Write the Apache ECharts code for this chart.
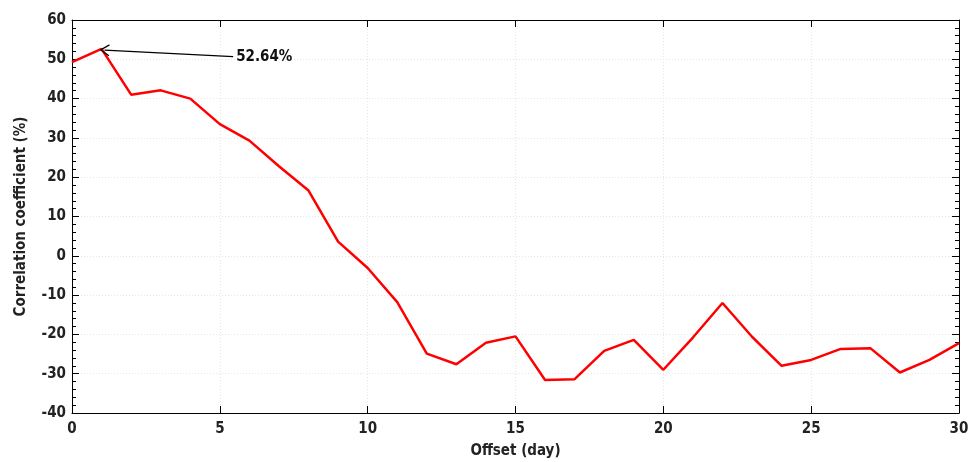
<!DOCTYPE html>
<html><head><meta charset="utf-8">
<script src="https://cdn.jsdelivr.net/npm/echarts@6/dist/echarts.min.js"></script>
<style>html,body{margin:0;padding:0;background:#fff}#c{width:969px;height:462px}</style>
</head><body><div id="c"></div>
<script>
const offsets = [0,1,2,3,4,5,6,7,8,9,10,11,12,13,14,15,16,17,18,19,20,21,22,23,24,25,26,27,28,29,30];
const corr = [49.3,52.64,41.0,42.1,40.0,33.5,29.3,22.8,16.6,3.6,-3.1,-11.8,-24.9,-27.6,-22.1,-20.5,-31.6,-31.4,-24.2,-21.4,-29.0,-20.8,-12.0,-20.6,-28.0,-26.5,-23.7,-23.5,-29.7,-26.5,-22.2];
const peakLabel = '52.64%';
const peakIndex = 1;
const labelAnchor = [5.45, 50.7];

const FONT = '"DejaVu Sans Condensed","Liberation Sans",Arial,sans-serif';
const chart = echarts.init(document.getElementById('c'));
const axisLine = {show:true, onZero:false, lineStyle:{color:'#000', width:1}};
const gridLine = {show:true, lineStyle:{color:'#e6e6e6', type:[1,2], width:1}};
chart.setOption({
  animation:false,
  backgroundColor:'#fff',
  grid:{left:72, right:10, top:20, bottom:49, outerBoundsMode:'none', containLabel:false},
  xAxis:[{
    type:'value', min:0, max:30, interval:5, position:'bottom',
    name:'Offset (day)', nameLocation:'middle', nameGap:31,
    nameTextStyle:{fontFamily:FONT, fontWeight:'bold', fontSize:15, color:'#222'},
    axisLine, axisTick:{show:true, inside:true, length:7, lineStyle:{color:'#000'}},
    axisLabel:{fontFamily:FONT, fontWeight:'bold', fontSize:15, color:'#222', margin:9},
    splitLine:gridLine
  },{
    type:'value', min:0, max:30, interval:5, position:'top',
    axisLine, axisTick:{show:true, inside:true, length:7, lineStyle:{color:'#000'}},
    axisLabel:{show:false}, splitLine:{show:false}
  }],
  yAxis:[{
    type:'value', min:-40, max:60, interval:10, position:'left',
    name:'Correlation coefficient (%)', nameLocation:'middle', nameGap:43, nameRotate:90,
    nameTextStyle:{fontFamily:FONT, fontWeight:'bold', fontSize:15, color:'#222'},
    axisLine, axisTick:{show:true, inside:true, length:7, lineStyle:{color:'#000'}},
    minorTick:{show:true, splitNumber:5, length:4, lineStyle:{color:'#000'}},
    axisLabel:{fontFamily:FONT, fontWeight:'bold', fontSize:15, color:'#222', margin:6},
    splitLine:gridLine
  },{
    type:'value', min:-40, max:60, interval:10, position:'right',
    axisLine, axisTick:{show:true, inside:true, length:7, lineStyle:{color:'#000'}},
    minorTick:{show:true, splitNumber:5, length:4, lineStyle:{color:'#000'}},
    axisLabel:{show:false}, splitLine:{show:false}
  }],
  series:[{
    type:'line', xAxisIndex:0, yAxisIndex:0,
    data: offsets.map((x,i)=>[x, corr[i]]),
    showSymbol:false, symbol:'none',
    lineStyle:{color:'#ff0000', width:2.5},
    markLine:{
      silent:true, animation:false,
      symbol:['path://M5,0 L10,9 L9,9.6 L5,2.2 L1,9.6 L0,9 Z','none'],
      symbolSize:[12,10],
      lineStyle:{color:'#000', width:1.3, type:'solid'},
      label:{show:true, position:'end', formatter:peakLabel, fontFamily:FONT, fontWeight:'bold', fontSize:15, color:'#111', distance:3},
      data:[[{coord:[offsets[peakIndex]+0.1, corr[peakIndex]-0.3]},{coord:labelAnchor}]]
    }
  }]
});
</script></body></html>
